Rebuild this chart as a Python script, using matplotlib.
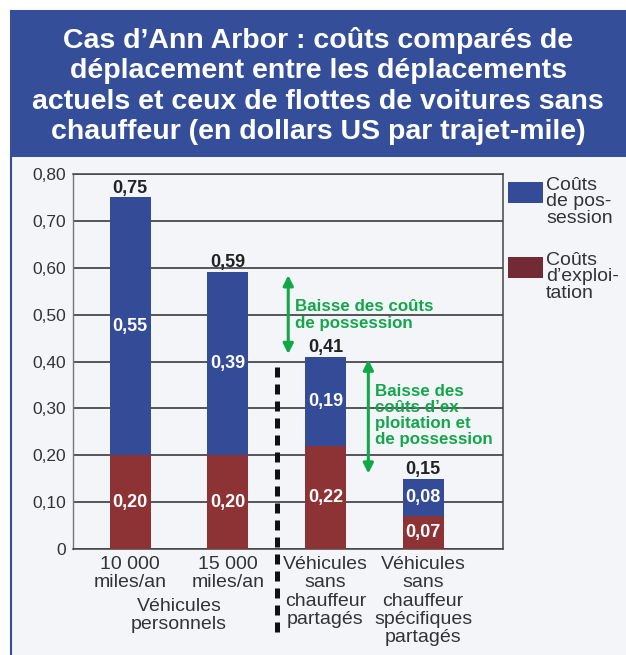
import matplotlib.pyplot as plt
import matplotlib.patches as mpatches
import numpy as np

plt.rcParams["font.family"] = ["Liberation Sans Narrow", "Liberation Sans", "DejaVu Sans"]

# données
categories = [
    "10 000\nmiles/an",
    "15 000\nmiles/an",
    "Véhicules\nsans\nchauffeur\npartagés",
    "Véhicules\nsans\nchauffeur\nspécifiques\npartagés",
]
exploitation = [0.20, 0.20, 0.22, 0.07]
possession = [0.55, 0.39, 0.19, 0.08]
totals = [0.75, 0.59, 0.41, 0.15]
yticks = [0, 0.1, 0.2, 0.3, 0.4, 0.5, 0.6, 0.7, 0.8]
ytick_labels = ["0", "0,10", "0,20", "0,30", "0,40", "0,50", "0,60", "0,70", "0,80"]

blue = "#344b97"
red = "#8e3335"
green = "#12a84a"
panel = "#f3f5f9"
txt = "#333333"

fig = plt.figure(figsize=(6.26, 6.55), dpi=100)
fig.patch.set_facecolor("white")

# panneau de fond + bandeau titre
fig.patches.append(
    mpatches.Rectangle((10 / 626, 0), 1, 1 - 157 / 655, transform=fig.transFigure,
                       facecolor=panel, edgecolor="none", zorder=-5)
)
fig.lines.append(
    plt.Line2D([11 / 626, 11 / 626], [0, 1 - 157 / 655], transform=fig.transFigure,
               color=blue, lw=1.5, zorder=-4)
)
fig.patches.append(
    mpatches.Rectangle((10 / 626, 1 - 157 / 655), 1, 147 / 655, transform=fig.transFigure,
                       facecolor="#344e99", edgecolor="none", zorder=-5)
)
fig.text(
    318 / 626, 1 - 86 / 655,
    "Cas d\u2019Ann Arbor : coûts comparés de\ndéplacement entre les déplacements\n"
    "actuels et ceux de flottes de voitures sans\nchauffeur (en dollars US par trajet-mile)",
    ha="center", va="center", color="white", fontsize=20.5, fontweight="bold",
    linespacing=1.22,
)

ax = fig.add_axes([73 / 626, 1 - 549 / 655, 430 / 626, 375 / 655])
ax.set_zorder(2)
ax.set_facecolor(panel)

x = np.arange(len(categories))
w = 0.42
ax.bar(x, exploitation, w, color=red, zorder=3)
ax.bar(x, possession, w, bottom=exploitation, color=blue, zorder=3)

for i in range(len(x)):
    ax.text(x[i], exploitation[i] / 2, f"{exploitation[i]:.2f}".replace(".", ","),
            ha="center", va="center", color="white", fontsize=13, fontweight="bold", zorder=4)
    ax.text(x[i], exploitation[i] + possession[i] / 2, f"{possession[i]:.2f}".replace(".", ","),
            ha="center", va="center", color="white", fontsize=13, fontweight="bold", zorder=4)
    ax.text(x[i], totals[i] + 0.002, f"{totals[i]:.2f}".replace(".", ","),
            ha="center", va="bottom", color="#222222", fontsize=13, fontweight="bold", zorder=4)

ax.set_xlim(-0.584, 3.819)
ax.set_ylim(0, 0.8)
ax.set_yticks(yticks)
ax.set_yticklabels(ytick_labels, fontsize=12.5, color=txt)
ax.set_xticks(x)
ax.set_xticklabels(categories, fontsize=14, color=txt, linespacing=1.1)
ax.tick_params(axis="y", length=0, pad=5)
ax.tick_params(axis="x", length=0, pad=5)
ax.grid(axis="y", color="#2a2a2a", lw=1.1, zorder=1)
for s in ["top", "right", "bottom"]:
    ax.spines[s].set_color("#444444")
    ax.spines[s].set_linewidth(1.1)
ax.spines["left"].set_color("#777777")
ax.spines["left"].set_linewidth(1.0)

ax.text(0.5, -0.13, "Véhicules\npersonnels", ha="center", va="top",
        fontsize=14, color=txt, linespacing=1.1, transform=ax.get_xaxis_transform())

# séparateur
ax.plot([1.5, 1.5], [0.388, -0.177], color="#111111", lw=3.6,
        linestyle=(0, (2, 1.4)), clip_on=False, zorder=5)

# flèches vertes
ax.annotate("", xy=(1.62, 0.59), xytext=(1.62, 0.41),
            arrowprops=dict(arrowstyle="<|-|>", color=green, lw=2.2, mutation_scale=15))
ax.text(1.69, 0.50, "Baisse des coûts\nde possession", ha="left", va="center",
        color=green, fontsize=12.2, fontweight="bold", linespacing=1.15)
ax.annotate("", xy=(2.44, 0.41), xytext=(2.44, 0.155),
            arrowprops=dict(arrowstyle="<|-|>", color=green, lw=2.2, mutation_scale=15))
ax.text(2.51, 0.285, "Baisse des\ncoûts d\u2019ex-\nploitation et\nde possession",
        ha="left", va="center", color=green, fontsize=12.2, fontweight="bold",
        linespacing=1.1, zorder=6)

# légende
fig.patches.append(mpatches.Rectangle((508 / 626, 1 - 203 / 655), 35 / 626, 21 / 655,
                                      transform=fig.transFigure, facecolor=blue))
fig.text(546 / 626, 1 - 177 / 655, "Coûts\nde pos-\nsession", ha="left", va="top",
         fontsize=14, color=txt, linespacing=0.95)
fig.patches.append(mpatches.Rectangle((508 / 626, 1 - 278 / 655), 35 / 626, 21 / 655,
                                      transform=fig.transFigure, facecolor="#722a35"))
fig.text(546 / 626, 1 - 252 / 655, "Coûts\nd\u2019exploi-\ntation", ha="left", va="top",
         fontsize=14, color=txt, linespacing=0.95)

fig.savefig("out.png", dpi=100)
